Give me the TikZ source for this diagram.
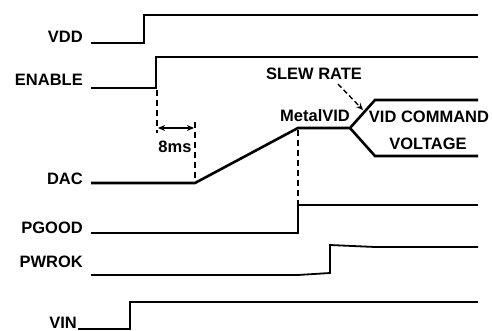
\documentclass[tikz,border=0pt]{standalone}
\usepackage{fontspec}
\setmainfont{Liberation Sans}
\usetikzlibrary{arrows.meta}
\begin{document}
\begin{tikzpicture}[x=1pt,y=-1pt,
  lbl/.style={font=\fontsize{16.5}{18}\selectfont\bfseries, inner sep=0pt, anchor=base east},
  txt/.style={font=\fontsize{16.5}{18}\selectfont\bfseries, inner sep=0pt, anchor=base},
  sig/.style={line width=2.6pt, line join=miter},
  thin/.style={line width=1.8pt, line join=miter},
  guide/.style={line width=1.5pt, dash pattern=on 6pt off 4pt}]
\useasboundingbox (0,0) rectangle (492,331);
% labels
\node[lbl] (vdd) at (83,43) {VDD};
\node[lbl] (en) at (83,86) {ENABLE};
\node[lbl] (dac) at (83,185) {DAC};
\node[lbl] (pg) at (83,233) {PGOOD};
\node[lbl] (pw) at (83,267) {PWROK};
\node[lbl] (vin) at (77,328.5) {VIN};
% waveforms
\draw[sig] (91,43) -- (144,43) -- (144,15) -- (478,15);
\draw[sig] (91,88) -- (156,88) -- (156,57) -- (478,57);
\draw[sig] (91,183) -- (195,183) -- (298,128) -- (350,128) -- (375,100) -- (478,100);
\draw[sig] (350,128) -- (375,156) -- (478,156);
\draw[thin] (91,233) -- (298,233) -- (298,205) -- (478,205);
\draw[thin] (91,275) -- (298,275) -- (330,273) -- (330,245) -- (375,247) -- (478,247);
\draw[thin] (78,329) -- (130,329) -- (130,302) -- (478,302);
% guides
\coordinate (g1a) at (157,90);
\coordinate (g1b) at (157,133);
\coordinate (g2a) at (195,122);
\coordinate (g2b) at (195,183);
\coordinate (g3a) at (298,130);
\coordinate (g3b) at (298,205);
\draw[guide] (g1a) -- (g1b);
\draw[guide] (g2a) -- (g2b);
\draw[guide] (g3a) -- (g3b);
\coordinate (a1) at (158,128);
\coordinate (a2) at (194,128);
\draw[line width=1.5pt, {Stealth[length=7pt,width=6pt]}-{Stealth[length=7pt,width=6pt]}] (a1) -- (a2);
\node[txt] (ms) at (175,153) {8ms};
% texts
\node[txt] (slew) at (314,80) {SLEW RATE};
\node[txt] (mvid) at (315,122) {MetalVID};
\node[txt] (vidc) at (429,123) {VID COMMAND};
\node[txt] (volt) at (428,150) {VOLTAGE};
\coordinate (s1) at (338,84);
\coordinate (s2) at (363,110);
\draw[line width=1.4pt, dash pattern=on 5pt off 3pt, -{Stealth[length=7pt,width=6pt]}] (s1) -- (s2);
\end{tikzpicture}
\end{document}
